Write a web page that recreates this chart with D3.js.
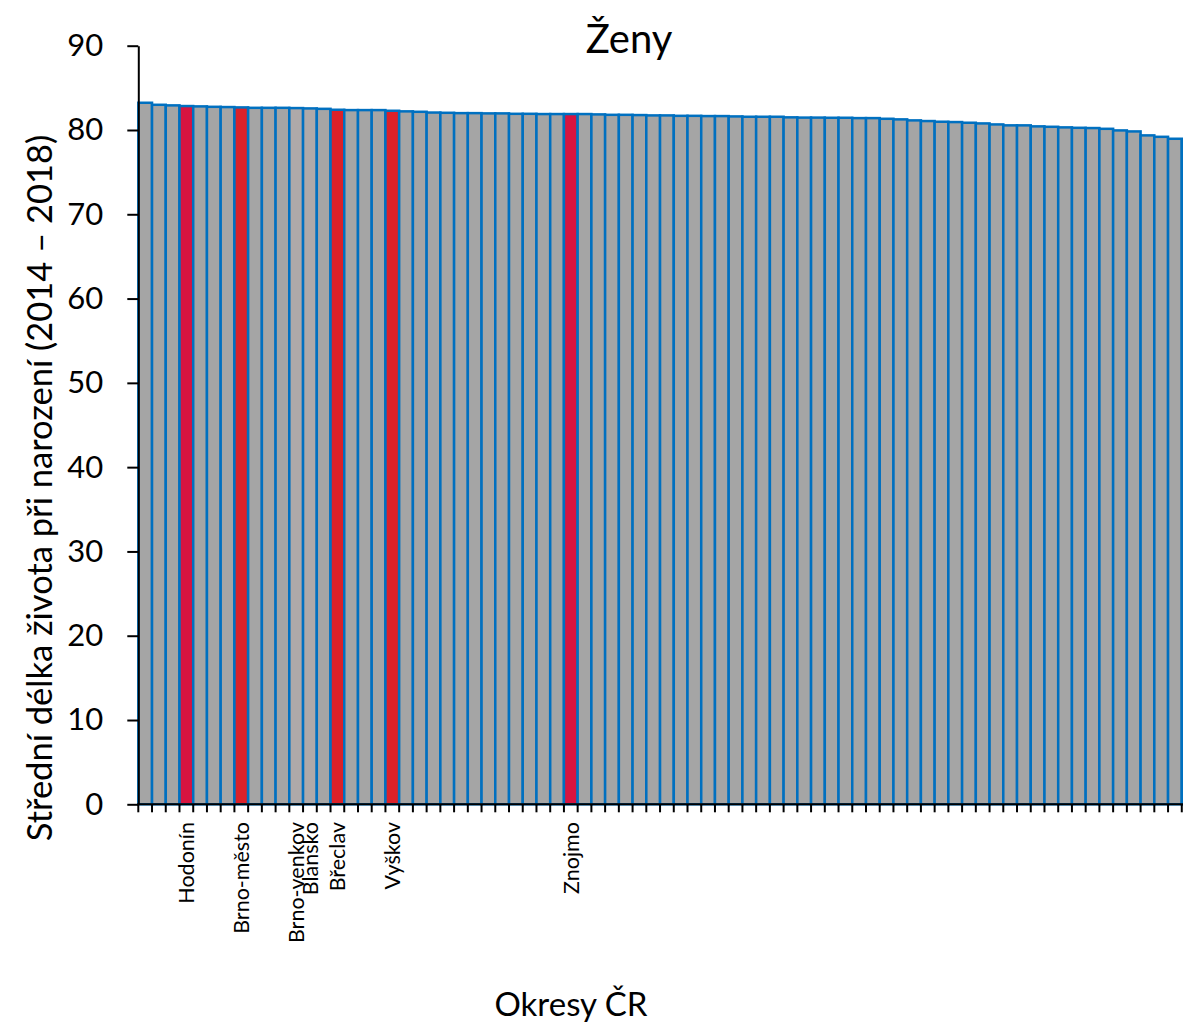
<!DOCTYPE html>
<html><head><meta charset="utf-8">
<script src="https://cdn.jsdelivr.net/npm/d3@7"></script>
<style>
html,body{margin:0;padding:0;background:#fff;overflow:hidden}
svg{display:block}
text{font-family:Lato,"Open Sans",sans-serif;fill:#000}
</style></head>
<body>
<script>
// ---- data ----
const title = "Ženy";
const yLabel = "Střední délka života při narození (2014 – 2018)";
const xLabel = "Okresy ČR";
const categories = [
 "","","","Hodonín","","","","Brno-město","","","","Brno-venkov","Blansko","","Břeclav","","","","Vyškov","",
 "","","","","","","","","","","","Znojmo","","","","","","","","",
 "","","","","","","","","","","","","","","","","","","","",
 "","","","","","","","","","","","","","","","",""
];
const values = [
 83.23,82.99,82.92,82.84,82.80,82.75,82.72,82.68,82.63,82.63,
 82.63,82.60,82.56,82.51,82.40,82.36,82.36,82.36,82.28,82.21,
 82.16,82.07,82.04,82.00,82.00,81.97,81.97,81.92,81.92,81.89,
 81.89,81.89,81.89,81.85,81.80,81.80,81.77,81.73,81.73,81.68,
 81.68,81.65,81.65,81.61,81.57,81.57,81.57,81.50,81.47,81.47,
 81.45,81.45,81.41,81.41,81.33,81.26,81.14,81.06,80.98,80.94,
 80.86,80.78,80.66,80.55,80.55,80.43,80.38,80.31,80.26,80.23,
 80.14,79.95,79.83,79.36,79.19,78.96,78.72
];
const yTicks = [0,10,20,30,40,50,60,70,80,90];
const crimsonDistricts = ["Hodonín","Znojmo"];
const redDistricts = ["Brno-město","Břeclav","Vyškov"];
const lightDistricts = ["Brno-venkov","Blansko"];

// ---- layout ----
const W = 1183, H = 1023;
const left = 138.3, step = 13.73, y0 = 804.3, y90 = 45.7;

const svg = d3.select("body").append("svg").attr("width", W).attr("height", H);

const x = d3.scaleBand().domain(d3.range(values.length)).range([left, left + step*values.length]).padding(0);
const y = d3.scaleLinear().domain([0,90]).range([y0, y90]);

function fillOf(i){
  const n = categories[i];
  if (crimsonDistricts.includes(n)) return "#D71440";
  if (redDistricts.includes(n)) return "#DC2129";
  if (lightDistricts.includes(n)) return "#AEA9A9";
  return "#A5A5A5";
}

// bars
svg.append("g").selectAll("rect").data(values).join("rect")
  .attr("x", (d,i)=>x(i))
  .attr("y", d=>y(d))
  .attr("width", x.bandwidth())
  .attr("height", d=>y(0)-y(d))
  .attr("fill", (d,i)=>fillOf(i))
  .attr("stroke", "#0070C0")
  .attr("stroke-width", 2.5);

// y axis
const yAxis = svg.append("g").attr("transform", `translate(${left},0)`)
  .call(d3.axisLeft(y).tickValues(yTicks).tickSize(11).tickPadding(24).tickSizeOuter(0));
yAxis.select(".domain").attr("stroke","#000").attr("stroke-width",2);
yAxis.selectAll(".tick line").attr("stroke","#000").attr("stroke-width",2);
yAxis.selectAll(".tick text").style("font-family","Lato").style("font-size","31px").attr("fill","#000");

// x axis line and ticks at bar boundaries
const bounds = d3.range(values.length+1).map(i => i < values.length ? x(i) : x(values.length-1)+x.bandwidth());
svg.append("line").attr("x1", left-1).attr("x2", W+20).attr("y1", y0).attr("y2", y0)
  .attr("stroke","#000").attr("stroke-width",2);
svg.append("g").selectAll("line").data(bounds).join("line")
  .attr("x1", d=>d).attr("x2", d=>d).attr("y1", y0).attr("y2", y0+8)
  .attr("stroke","#000").attr("stroke-width",2);

// district labels
svg.append("g").selectAll("text").data(categories.map((c,i)=>({c,i})).filter(d=>d.c))
  .join("text")
  .attr("transform", d=>`translate(${x(d.i)+x.bandwidth()/2},822) rotate(-90)`)
  .attr("text-anchor","end").attr("dy","0.36em")
  .style("font-size","21.5px")
  .text(d=>d.c);

// title
svg.append("text").attr("x", 629).attr("y", 53).attr("text-anchor","middle")
  .style("font-size","40px").text(title);

// y label
svg.append("text").attr("transform","translate(40,488) rotate(-90)")
  .attr("text-anchor","middle").attr("dy","0.35em")
  .style("font-size","34.5px").text(yLabel);

// x label
svg.append("text").attr("x", 571).attr("y", 1016).attr("text-anchor","middle")
  .style("font-size","33px").text(xLabel);
</script>
</body></html>
